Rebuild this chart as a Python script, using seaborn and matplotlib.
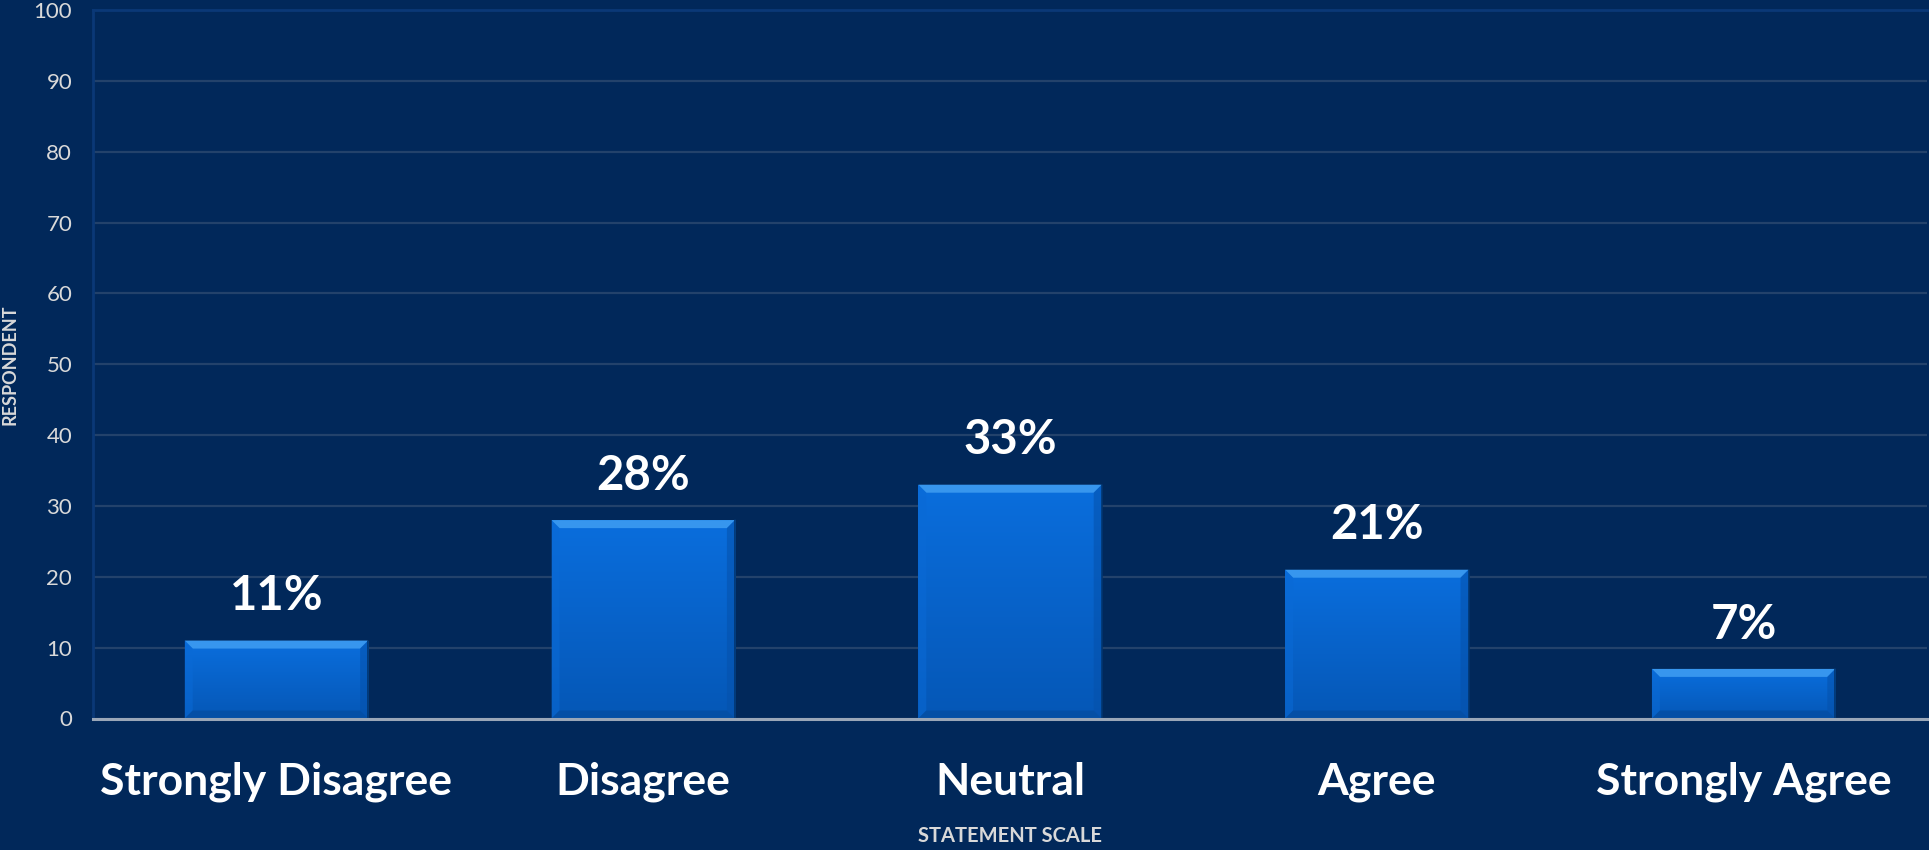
import numpy as np
import matplotlib
matplotlib.use("Agg")
import matplotlib.pyplot as plt
from matplotlib.patches import Polygon
import seaborn as sns
import pandas as pd

# Survey responses per statement scale point (percent of respondents)
categories = ["Strongly Disagree", "Disagree", "Neutral", "Agree", "Strongly Agree"]
percentages = [11, 28, 33, 21, 7]
y_ticks = [0, 10, 20, 30, 40, 50, 60, 70, 80, 90, 100]

BG = "#01285a"
BAR = "#0864d2"

sns.set_theme(style="dark")
plt.rcParams["font.family"] = ["Lato", "DejaVu Sans"]

fig = plt.figure(figsize=(19.29, 8.5), dpi=100, facecolor=BG)
ax = fig.add_axes([93 / 1929, 1 - 718.5 / 850, (1927 - 93) / 1929, (718.5 - 10) / 850])
ax.set_facecolor(BG)

df = pd.DataFrame({"scale": categories, "pct": percentages})
sns.barplot(data=df, x="scale", y="pct", color=BAR, width=0.5, ax=ax,
            saturation=1, edgecolor="none", zorder=3)

ax.set_xlim(-0.5, len(categories) - 0.5)
ax.set_ylim(0, 100)
ax.set_yticks(y_ticks)
ax.grid(axis="y", color="#23426b", linewidth=1.6, zorder=0)
ax.grid(axis="x", visible=False)

for side in ["top", "left", "right"]:
    ax.spines[side].set_color("#0a3877")
    ax.spines[side].set_linewidth(2)
ax.spines["right"].set_visible(False)
ax.spines["bottom"].set_color("#9aa7b8")
ax.spines["bottom"].set_linewidth(2.2)
ax.spines["bottom"].set_zorder(5)

ax.tick_params(axis="y", colors="#d9d9d9", labelsize=16, length=0, pad=15)
ax.tick_params(axis="x", colors="white", labelsize=32, length=0, pad=31)
for lbl in ax.get_xticklabels():
    lbl.set_fontweight("bold")

ax.set_xlabel("STATEMENT SCALE", color="#d9d9d9", fontsize=14.5, fontweight="bold", labelpad=17)
ax.set_ylabel("RESPONDENT", color="#d9d9d9", fontsize=13, fontweight="bold", va="center")
ax.yaxis.set_label_coords(-0.0455, 0.5)

# Bevelled, gradient-shaded bars
fig.canvas.draw()
bbox = ax.get_window_extent()
px_x = (ax.get_xlim()[1] - ax.get_xlim()[0]) / bbox.width
px_y = (ax.get_ylim()[1] - ax.get_ylim()[0]) / bbox.height
bev = 8
bx, by = bev * px_x, bev * px_y
grad = np.linspace(0, 1, 256).reshape(-1, 1)
cmap = matplotlib.colors.LinearSegmentedColormap.from_list("barfill", ["#0557b6", "#0a6edd"])

for patch, val in zip(ax.patches, percentages):
    x0 = patch.get_x()
    w = patch.get_width()
    h = patch.get_height()
    x1 = x0 + w
    im = ax.imshow(grad, extent=(x0, x1, 0, h), origin="lower", aspect="auto",
                   cmap=cmap, zorder=3.5)
    im.set_clip_path(patch)
    # top bevel
    ax.add_patch(Polygon([(x0, h), (x1, h), (x1 - bx, h - by), (x0 + bx, h - by)],
                         closed=True, facecolor="#3796ee", edgecolor="none", zorder=4))
    # left bevel
    ax.add_patch(Polygon([(x0, 0), (x0, h), (x0 + bx, h - by), (x0 + bx, by)],
                         closed=True, facecolor="#0a6ad6", alpha=0.55, edgecolor="none", zorder=4))
    # right bevel
    ax.add_patch(Polygon([(x1, 0), (x1, h), (x1 - bx, h - by), (x1 - bx, by)],
                         closed=True, facecolor="#0551ab", alpha=0.55, edgecolor="none", zorder=4))
    # bottom bevel
    ax.add_patch(Polygon([(x0, 0), (x1, 0), (x1 - bx, by), (x0 + bx, by)],
                         closed=True, facecolor="#044c9f", alpha=0.7, edgecolor="none", zorder=4))
    # thin dark edge on the right for depth
    ax.plot([x1, x1], [0, h], color="#02356f", linewidth=1.2, zorder=4.2)
    ax.annotate(f"{val}%", (x0 + w / 2, h), xytext=(0, 16), textcoords="offset points",
                ha="center", va="bottom", color="white", fontsize=34, fontweight="bold",
                zorder=6)

ax.set_ylim(0, 100)
fig.savefig("out.png", dpi=100, facecolor=BG)
